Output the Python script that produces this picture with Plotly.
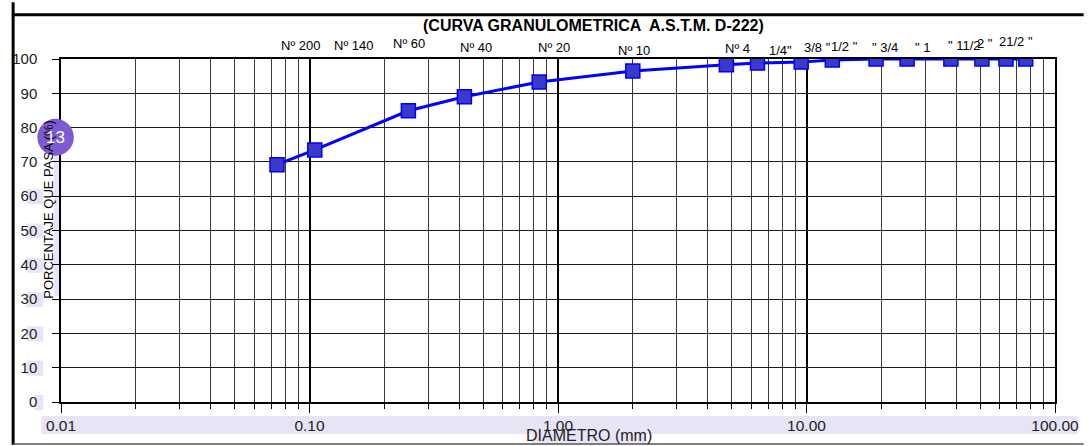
import plotly.graph_objects as go

# ---- data ----
diameters_mm = [0.074, 0.105, 0.25, 0.42, 0.84, 2.0, 4.76, 6.35, 9.52, 12.7,
                19.05, 25.4, 38.1, 50.8, 63.5, 76.2]
percent_passing = [69.2, 73.5, 84.9, 89.0, 93.3, 96.5, 98.3, 98.8, 99.1, 99.7,
                   100, 100, 100, 100, 100, 100]
sieve_labels = ["Nº 200", "Nº 140", "Nº 60", "Nº 40", "Nº 20", "Nº 10", "Nº 4",
                "1/4\"", "3/8 \"", "1/2 \"", "\" 3/4", "\" 1", "\" 11/2", "2 \"", "21/2 \""]
x_tick_vals = [0.01, 0.1, 1, 10, 100]
x_tick_text = ["0.01", "0.10", "1.00", "10.00", "100.00"]
y_tick_vals = [0, 10, 20, 30, 40, 50, 60, 70, 80, 90, 100]

# ---- layout geometry (pixels) ----
W, H = 1091, 446
L, R, T, B = 55, 1062, 59, 403


def px(xp):
    return (xp - L) / (R - L)


def py(yp):
    return (B - yp) / (B - T)


# sieve label pixel positions (center x, center y)
label_pos = [(298, 45), (351, 45), (408, 43), (475, 47), (554, 47), (636, 50),
             (740, 48), (784, 50), (821, 47), (849, 46), (890, 47), (928, 47),
             (970, 45), (991, 43), (1022, 41)]

minor_vals = []
for dec in [0.01, 0.1, 1, 10]:
    for k in range(2, 10):
        minor_vals.append(round(dec * k, 6))

LAV = "rgb(231,228,246)"
FONT = "Liberation Sans, Arial, sans-serif"
NARROW = "Liberation Sans Narrow, Arial Narrow, Liberation Sans, Arial, sans-serif"

fig = go.Figure()
fig.add_trace(go.Scatter(
    x=diameters_mm, y=percent_passing, mode="lines+markers",
    line=dict(color="#0000ff", width=3),
    marker=dict(symbol="square", size=14, color="#3a3ac8",
                line=dict(color="#0000ff", width=1.5)),
    showlegend=False, hoverinfo="x+y"))

shapes = []
# lavender highlight boxes (behind text)
for v in [60, 50, 40, 30, 20, 10, 0]:
    yc = B - v * (B - T) / 100
    x0 = 20 if v > 0 else 28
    shapes.append(dict(type="rect", xref="paper", yref="paper", layer="below",
                       x0=px(x0), x1=px(37), y0=py(yc + 8), y1=py(yc - 7),
                       fillcolor=LAV, line=dict(width=0)))
shapes.append(dict(type="rect", xref="paper", yref="paper", layer="below",
                   x0=px(35), x1=px(1085), y0=py(435), y1=py(417),
                   fillcolor=LAV, line=dict(width=0)))
shapes.append(dict(type="rect", xref="paper", yref="paper", layer="below",
                   x0=px(48), x1=px(55), y0=py(297), y1=py(127),
                   fillcolor=LAV, line=dict(width=0)))
shapes.append(dict(type="rect", xref="paper", yref="paper", layer="below",
                   x0=px(532), x1=px(648), y0=py(445), y1=py(429),
                   fillcolor=LAV, line=dict(width=0)))
# outer frame
shapes.append(dict(type="line", xref="paper", yref="paper",
                   x0=px(6), x1=px(1091), y0=py(14.5), y1=py(14.5),
                   line=dict(color="black", width=3)))
shapes.append(dict(type="line", xref="paper", yref="paper",
                   x0=px(6.5), x1=px(6.5), y0=py(446), y1=py(2),
                   line=dict(color="black", width=3)))
shapes.append(dict(type="line", xref="paper", yref="paper",
                   x0=px(6), x1=px(1091), y0=py(445), y1=py(445),
                   line=dict(color="#555555", width=1.5)))
# purple badge
shapes.append(dict(type="circle", xref="paper", yref="paper",
                   x0=px(31), x1=px(68), y0=py(156), y1=py(119),
                   fillcolor="#7e5bd3", line=dict(width=0)))

annotations = []
for txt, (lx, ly) in zip(sieve_labels, label_pos):
    annotations.append(dict(text=txt, x=px(lx), y=py(ly), xref="paper", yref="paper",
                            showarrow=False, xanchor="center", yanchor="middle",
                            font=dict(family=FONT, size=13, color="black")))
annotations.append(dict(text="<b>(CURVA GRANULOMETRICA  A.S.T.M. D-222)</b>",
                        x=px(594), y=py(25), xref="paper", yref="paper",
                        showarrow=False, xanchor="center", yanchor="middle",
                        font=dict(family=FONT, size=16, color="black")))
annotations.append(dict(text="DIAMETRO (mm)", x=px(590), y=py(437), xref="paper",
                        yref="paper", showarrow=False, xanchor="center", yanchor="middle",
                        font=dict(family=FONT, size=16, color="#222222")))
annotations.append(dict(text="PORCENTAJE QUE PASA (%)", x=px(42), y=py(210),
                        xref="paper", yref="paper", showarrow=False, textangle=-90,
                        xanchor="center", yanchor="middle",
                        font=dict(family=NARROW, size=13, color="black")))
annotations.append(dict(text="13", x=px(49.5), y=py(137.5), xref="paper", yref="paper",
                        showarrow=False, xanchor="center", yanchor="middle",
                        font=dict(family=FONT, size=17, color="white")))

fig.update_layout(
    width=W, height=H, autosize=False,
    margin=dict(l=L, r=W - R, t=T, b=H - B, pad=0),
    paper_bgcolor="white", plot_bgcolor="white",
    shapes=shapes, annotations=annotations,
    xaxis=dict(type="log", range=[-2, 2], tickvals=x_tick_vals, ticktext=x_tick_text,
               showgrid=True, gridcolor="black", gridwidth=1.5,
               ticks="outside", ticklen=9, tickcolor="black", tickwidth=1,
               showline=True, linecolor="black", linewidth=1.5, mirror=True,
               tickfont=dict(family=FONT, size=15.5, color="#222222"),
               minor=dict(tickvals=minor_vals, showgrid=True, gridcolor="#3a3a3a",
                          gridwidth=1, ticks="outside", ticklen=5, tickcolor="black"),
               zeroline=False, fixedrange=True),
    yaxis=dict(range=[0, 100], tickvals=y_tick_vals,
               showgrid=True, gridcolor="#1a1a1a", gridwidth=1,
               ticks="outside", ticklen=7, tickcolor="black",
               showline=True, linecolor="black", linewidth=1.5, mirror=True,
               tickfont=dict(family=FONT, size=15, color="#222222"),
               ticklabelstandoff=12, zeroline=False, fixedrange=True),
)

fig.write_html("out.html", config={"displayModeBar": False},
               post_script="document.body.style.margin='0';document.body.style.overflow='hidden';")
